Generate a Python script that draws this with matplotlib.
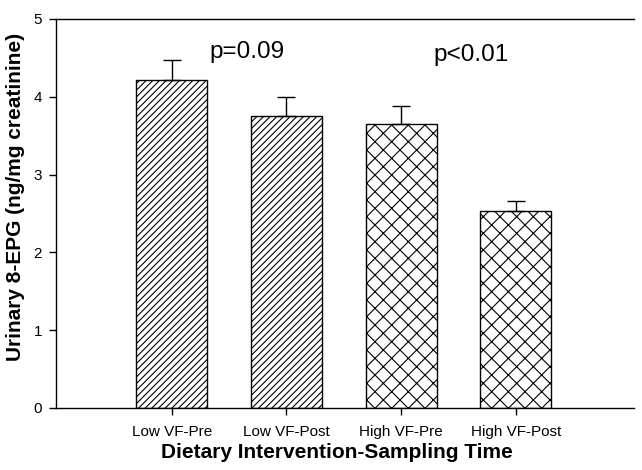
import matplotlib.pyplot as plt
import numpy as np

plt.rcParams['font.family'] = ['Liberation Sans', 'DejaVu Sans']
plt.rcParams['hatch.linewidth'] = 0.8

groups = ['Low VF-Pre', 'Low VF-Post', 'High VF-Pre', 'High VF-Post']
means = [4.21, 3.75, 3.65, 2.53]
errs = [0.26, 0.25, 0.23, 0.13]
hatches = ['/////', '/////', 'xx', 'xx']

fig = plt.figure(figsize=(6.42, 4.70), dpi=100)
ax = fig.add_axes([0.0872, 0.132, 0.9003, 0.8276])

x = np.arange(len(groups))
bars = ax.bar(x, means, width=0.62, color='white', edgecolor='black', linewidth=1.0)
for b, h in zip(bars, hatches):
    b.set_hatch(h)
ax.errorbar(x, means, yerr=[np.zeros(len(errs)), errs], fmt='none',
            ecolor='black', elinewidth=1.0, capsize=6.5, capthick=1.0)

ax.set_xlim(-1.01, 4.03)
ax.set_ylim(0, 5)
ax.set_yticks([0, 1, 2, 3, 4, 5])
ax.set_xticks(x)
ax.set_xticklabels(groups, fontsize=11)
ax.tick_params(axis='y', labelsize=11, direction='out', length=5, width=1, pad=5)
ax.tick_params(axis='x', direction='out', length=5, width=1, pad=7)
for s in ['top', 'right']:
    ax.spines[s].set_visible(False)
ax.spines['left'].set_linewidth(1.0)
ax.spines['bottom'].set_linewidth(1.0)
# top border line like the original frame
ax.axhline(5, color='black', linewidth=1.0, clip_on=False)

ax.text(0.655, 4.50, 'p=0.09', fontsize=17.5, ha='center', va='baseline')
ax.text(2.61, 4.46, 'p<0.01', fontsize=17.5, ha='center', va='baseline')

ax.set_xlabel('Dietary Intervention-Sampling Time', fontsize=15, fontweight='bold')
ax.set_ylabel('Urinary 8-EPG (ng/mg creatinine)', fontsize=15, fontweight='bold')
ax.xaxis.set_label_coords(0.486, -0.089)
ax.yaxis.set_label_coords(-0.054, 0.542)

fig.savefig('out.png', dpi=100)
